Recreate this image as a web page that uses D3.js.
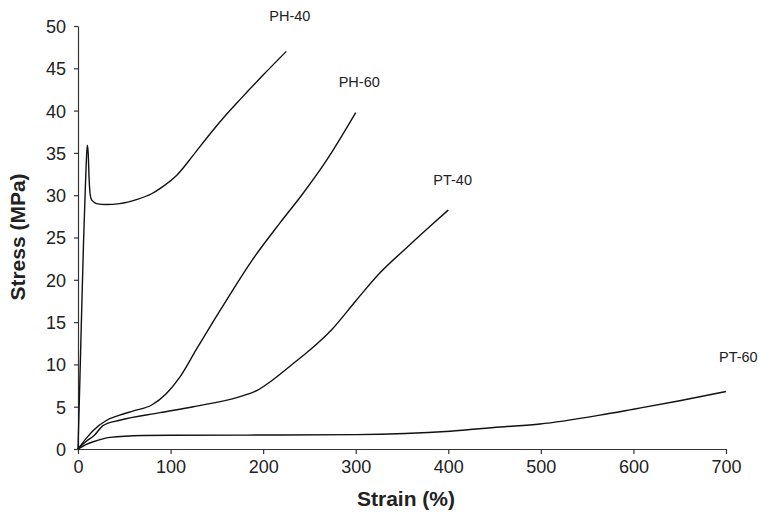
<!DOCTYPE html>
<html>
<head>
<meta charset="utf-8">
<script src="https://cdn.jsdelivr.net/npm/d3@7"></script>
<style>
  body { margin: 0; background: #fff; }
  text { font-family: "Liberation Sans", Arial, sans-serif; fill: #222; }
</style>
</head>
<body>
<div id="chart"></div>
<script>
// series: strain (%) and stress (MPa)
var ph40Strain = [0, 2, 4, 6, 7.5, 8.8, 10, 11, 12, 13, 14.5, 17, 20, 30, 45, 64, 80, 90, 107, 125, 143, 160, 175, 200, 225];
var ph40Stress = [0, 8, 16.5, 24.5, 29.5, 33.5, 35.9, 35, 32, 30.2, 29.5, 29.2, 29, 28.9, 29, 29.5, 30.2, 30.9, 32.4, 34.8, 37.3, 39.5, 41.3, 44.2, 47];

var ph60Strain = [0, 10, 16.5, 31, 45, 60, 79.6, 95, 110, 128, 148, 165, 188, 218, 243, 269, 300];
var ph60Stress = [0, 1.4, 2.2, 3.4, 4.0, 4.5, 5.2, 6.5, 8.5, 11.8, 15.4, 18.4, 22.3, 26.7, 30.2, 34.2, 39.75];

var pt40Strain = [0, 10, 16.5, 27.4, 45, 88.5, 124.5, 175, 193, 212, 232.5, 250.5, 274, 300, 326, 355, 380, 400];
var pt40Stress = [0, 1.0, 1.5, 2.8, 3.4, 4.3, 5.0, 6.2, 6.9, 8.3, 10.1, 11.7, 14.1, 17.5, 20.8, 23.8, 26.3, 28.25];

var pt60Strain = [0, 8, 16.5, 34.5, 70, 100, 200, 300, 402, 456, 499, 564, 600, 650, 700];
var pt60Stress = [0, 0.5, 0.86, 1.38, 1.6, 1.63, 1.65, 1.7, 2.1, 2.6, 2.95, 4.0, 4.7, 5.7, 6.8];

var seriesNames = ["PH-40", "PH-60", "PT-40", "PT-60"];
var xTicks = [0, 100, 200, 300, 400, 500, 600, 700];
var yTicks = [0, 5, 10, 15, 20, 25, 30, 35, 40, 45, 50];

var width = 761, height = 512;
var margin = { top: 26, right: 35, bottom: 63, left: 78 };

var svg = d3.select("#chart").append("svg")
    .attr("width", width)
    .attr("height", height);

var x = d3.scaleLinear().domain([0, 700]).range([margin.left, width - margin.right]);
var y = d3.scaleLinear().domain([0, 50]).range([height - margin.bottom, margin.top]);

// axes
var xAxis = svg.append("g")
    .attr("transform", "translate(0," + y(0) + ")")
    .call(d3.axisBottom(x).tickValues(xTicks).tickSize(5).tickSizeOuter(0).tickPadding(6));
var yAxis = svg.append("g")
    .attr("transform", "translate(" + x(0) + ",0)")
    .call(d3.axisLeft(y).tickValues(yTicks).tickSize(4).tickSizeOuter(0).tickPadding(8));

[xAxis, yAxis].forEach(function (g) {
    g.select(".domain").attr("stroke", "#333").attr("stroke-width", 1.2);
    g.selectAll(".tick line").attr("stroke", "#333").attr("stroke-width", 1.2);
    g.selectAll(".tick text")
        .attr("fill", "#222")
        .style("font-family", "'Liberation Sans', Arial, sans-serif")
        .style("font-size", "18px");
});
// y-axis tick labels centred on tick
yAxis.selectAll(".tick text").attr("dy", "0.36em");

// axis titles
svg.append("text")
    .attr("x", (x(0) + x(700)) / 2 + 4)
    .attr("y", 506)
    .attr("text-anchor", "middle")
    .style("font-size", "21px")
    .style("font-weight", "bold")
    .text("Strain (%)");

svg.append("text")
    .attr("transform", "translate(25," + 237 + ") rotate(-90)")
    .attr("text-anchor", "middle")
    .style("font-size", "21px")
    .style("font-weight", "bold")
    .text("Stress (MPa)");

// curves
var series = [
    { name: seriesNames[0], strain: ph40Strain, stress: ph40Stress },
    { name: seriesNames[1], strain: ph60Strain, stress: ph60Stress },
    { name: seriesNames[2], strain: pt40Strain, stress: pt40Stress },
    { name: seriesNames[3], strain: pt60Strain, stress: pt60Stress }
];

var line = d3.line()
    .x(function (d) { return x(d[0]); })
    .y(function (d) { return y(d[1]); })
    .curve(d3.curveMonotoneX);

svg.selectAll("path.curve")
    .data(series)
    .enter().append("path")
    .attr("class", "curve")
    .attr("fill", "none")
    .attr("stroke", "#111")
    .attr("stroke-width", 1.4)
    .attr("d", function (d) {
        return line(d.strain.map(function (s, i) { return [s, d.stress[i]]; }));
    });

// labels placed near the end of each curve
var labelOffsets = [[-17, -30], [-17, -26], [-15, -25], [-7, -29]];
svg.selectAll("text.label")
    .data(series)
    .enter().append("text")
    .attr("class", "label")
    .attr("x", function (d, i) { return x(d.strain[d.strain.length - 1]) + labelOffsets[i][0]; })
    .attr("y", function (d, i) { return y(d.stress[d.stress.length - 1]) + labelOffsets[i][1]; })
    .style("font-size", "14.5px")
    .text(function (d) { return d.name; });
</script>
</body>
</html>
